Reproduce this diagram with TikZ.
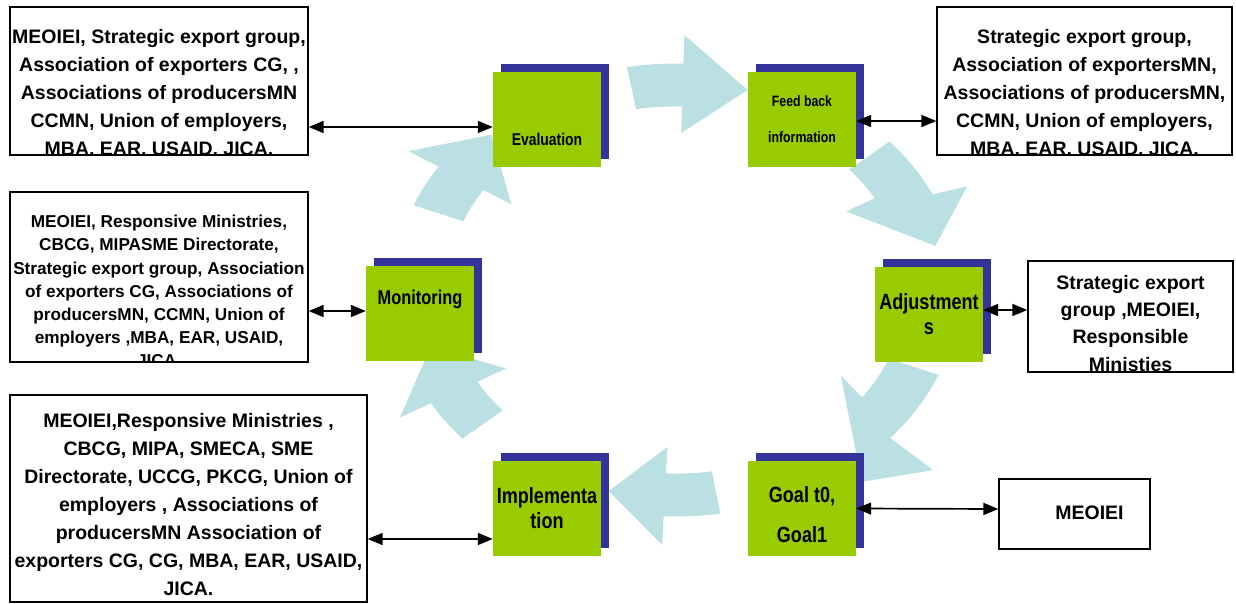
\documentclass[tikz,border=0pt]{standalone}
\usepackage{fontspec}
\setmainfont{Liberation Sans}
\newfontfamily\narrowfont{Liberation Sans Bold}[FakeStretch=0.82]
\usetikzlibrary{arrows.meta, shadows, positioning}
\definecolor{stagegreen}{RGB}{153,204,0}
\definecolor{stageblue}{RGB}{51,51,153}
\definecolor{cyclecyan}{RGB}{187,224,227}

\begin{document}
\begin{tikzpicture}[x=1pt, y=-1pt]

        \tikzstyle{stage} = [fill=stagegreen, minimum width=108pt, minimum height=95pt, inner sep=0pt, align=center, drop shadow={shadow xshift=8pt, shadow yshift=8pt, fill=stageblue, opacity=1}];
        \tikzstyle{partnertext} = [anchor=north, align=center, inner sep=0pt];
        \tikzstyle{link} = [line width=1.7pt, {Triangle[length=15pt, width=12pt]}-{Triangle[length=15pt, width=12pt]}];
        \tikzstyle{turn} = [fill=cyclecyan];
        \tikzset{partner/.style n args={3}{draw, line width=1.3pt, inner sep=0pt,
            path picture={\node[partnertext, font=#2] at ([#1]path picture bounding box.north) {#3};}}}

        \useasboundingbox (0,0) rectangle (1236,604);

        % cycle arrows: tail, inner base, inner wing, tip (angle, radius), outer wing (angle, radius), outer base, outer band
        \begin{scope}[shift={(676,290)}]
        \foreach \ta/\bi/\wi/\ti/\tr/\wo/\wr/\bo/\of in {158/147/147/133.5/1.05/147/1.25/147/1.11,
                100/88.5/88.5/74/1.02/88.5/1.25/88.5/1.11,
                41/30/30/12/1.04/24/1.25/25/1.11,
                338/324.2/327/307.8/1.19/318.8/1.34/319.2/1.11,
                279/267.5/267.5/255/1.02/267.5/1.25/267.5/1.11,
                221/210/210/196/1.0/210/1.25/210/1.11} {
            \pgfmathsetmacro\tipx{\tr*255} \pgfmathsetmacro\tipy{\tr*204}
            \pgfmathsetmacro\wox{\wr*255} \pgfmathsetmacro\woy{\wr*204}
            \pgfmathsetmacro\ofx{\of*255} \pgfmathsetmacro\ofy{\of*204}
            \fill[turn] (\ta:229.5pt and 183.6pt) arc[start angle=\ta, end angle=\bi, x radius=229.5pt, y radius=183.6pt]
                -- (\wi:196.4pt and 157.1pt) -- (\ti:\tipx pt and \tipy pt) -- (\wo:\wox pt and \woy pt)
                -- (\bo:\ofx pt and \ofy pt) arc[start angle=\bo, end angle=\ta, x radius=\ofx pt, y radius=\ofy pt] -- cycle;
        }
        \end{scope}

        % stages
        \node[stage, font=\narrowfont\fontsize{17}{20}\selectfont, text height=53pt, text depth=0pt] (eval) at (547,119.5) {Evaluation};
        \node[stage, font=\narrowfont\fontsize{15}{36}\selectfont] (feed) at ([xshift=255pt]eval) {Feed back\\information};
        \node[stage, font=\narrowfont\fontsize{20}{24}\selectfont, text height=15pt, text depth=34pt] (mon) at ([xshift=-127pt,yshift=-194pt]eval) {Monitoring};
        \node[stage, font=\narrowfont\fontsize{22}{25}\selectfont] (adj) at ([xshift=382pt,yshift=-195pt]eval) {Adjustment\\s};
        \node[stage, font=\narrowfont\fontsize{22}{25}\selectfont] (impl) at ([yshift=-389pt]eval) {Implementa\\tion};
        \node[stage, font=\narrowfont\fontsize{22}{40}\selectfont] (goal) at ([yshift=-389pt]feed) {\rule{0pt}{28pt}Goal t0,\\Goal1};

        % partners
        \node[partner={yshift=-12pt}{\fontsize{19.5}{28}\selectfont\bfseries}{MEOIEI, Strategic export group,\\Association of exporters CG, ,\\Associations of producersMN\\CCMN, Union of employers,\\MBA, EAR, USAID, JICA.},
            minimum width=298pt, minimum height=148pt] (tlbox) at (159,81) {};
        \node[partner={yshift=-12pt}{\fontsize{19.5}{28}\selectfont\bfseries}{Strategic export group,\\Association of exportersMN,\\Associations of producersMN,\\CCMN, Union of employers,\\MBA, EAR, USAID, JICA.},
            minimum width=295pt, minimum height=148pt] (trbox) at (1084.5,81) {};
        \node[partner={yshift=-13.5pt}{\fontsize{17.2}{23.2}\selectfont\bfseries}{MEOIEI, Responsive Ministries,\\CBCG, MIPASME Directorate,\\Strategic export group, Association\\of exporters CG, Associations of\\producersMN, CCMN, Union of\\employers ,MBA, EAR, USAID,\\JICA.},
            minimum width=298pt, minimum height=170pt] (mlbox) at (159,277) {};
        \node[partner={yshift=-6pt}{\fontsize{19.5}{27.3}\selectfont\bfseries}{Strategic export\\group ,MEOIEI,\\Responsible\\Ministies},
            minimum width=205pt, minimum height=111pt] (rbox) at (1130.5,316.5) {};
        \node[partner={yshift=-5pt}{\fontsize{19.5}{28}\selectfont\bfseries}{MEOIEI,Responsive Ministries ,\\CBCG, MIPA, SMECA, SME\\Directorate, UCCG, PKCG, Union of\\employers , Associations of\\producersMN Association of\\exporters CG, CG, MBA, EAR, USAID,\\JICA.},
            minimum width=357pt, minimum height=207pt] (blbox) at (188.5,498.5) {};
        \node[partner={xshift=15pt, yshift=2pt}{\fontsize{19.5}{27}\selectfont\bfseries}{MEOIEI},
            minimum width=151pt, minimum height=70pt] (mbox) at (1074.5,514) {};

        % links
        \draw[link] ([yshift=-46pt]tlbox.east) -- ([yshift=-7.5pt]eval.west);
        \draw[link] ([yshift=-1.5pt]feed.east) -- ([yshift=-40pt]trbox.west);
        \draw[link] ([yshift=-34pt]mlbox.east) -- ([yshift=2.5pt]mon.west);
        \draw[link] ([yshift=4.5pt]adj.east) -- ([yshift=6.5pt]rbox.west);
        \draw[link] ([yshift=-40.5pt]blbox.east) -- ([yshift=-30.5pt]impl.west);
        \draw[link] (goal.east) -- ([yshift=5pt]mbox.west);

\end{tikzpicture}
\end{document}
